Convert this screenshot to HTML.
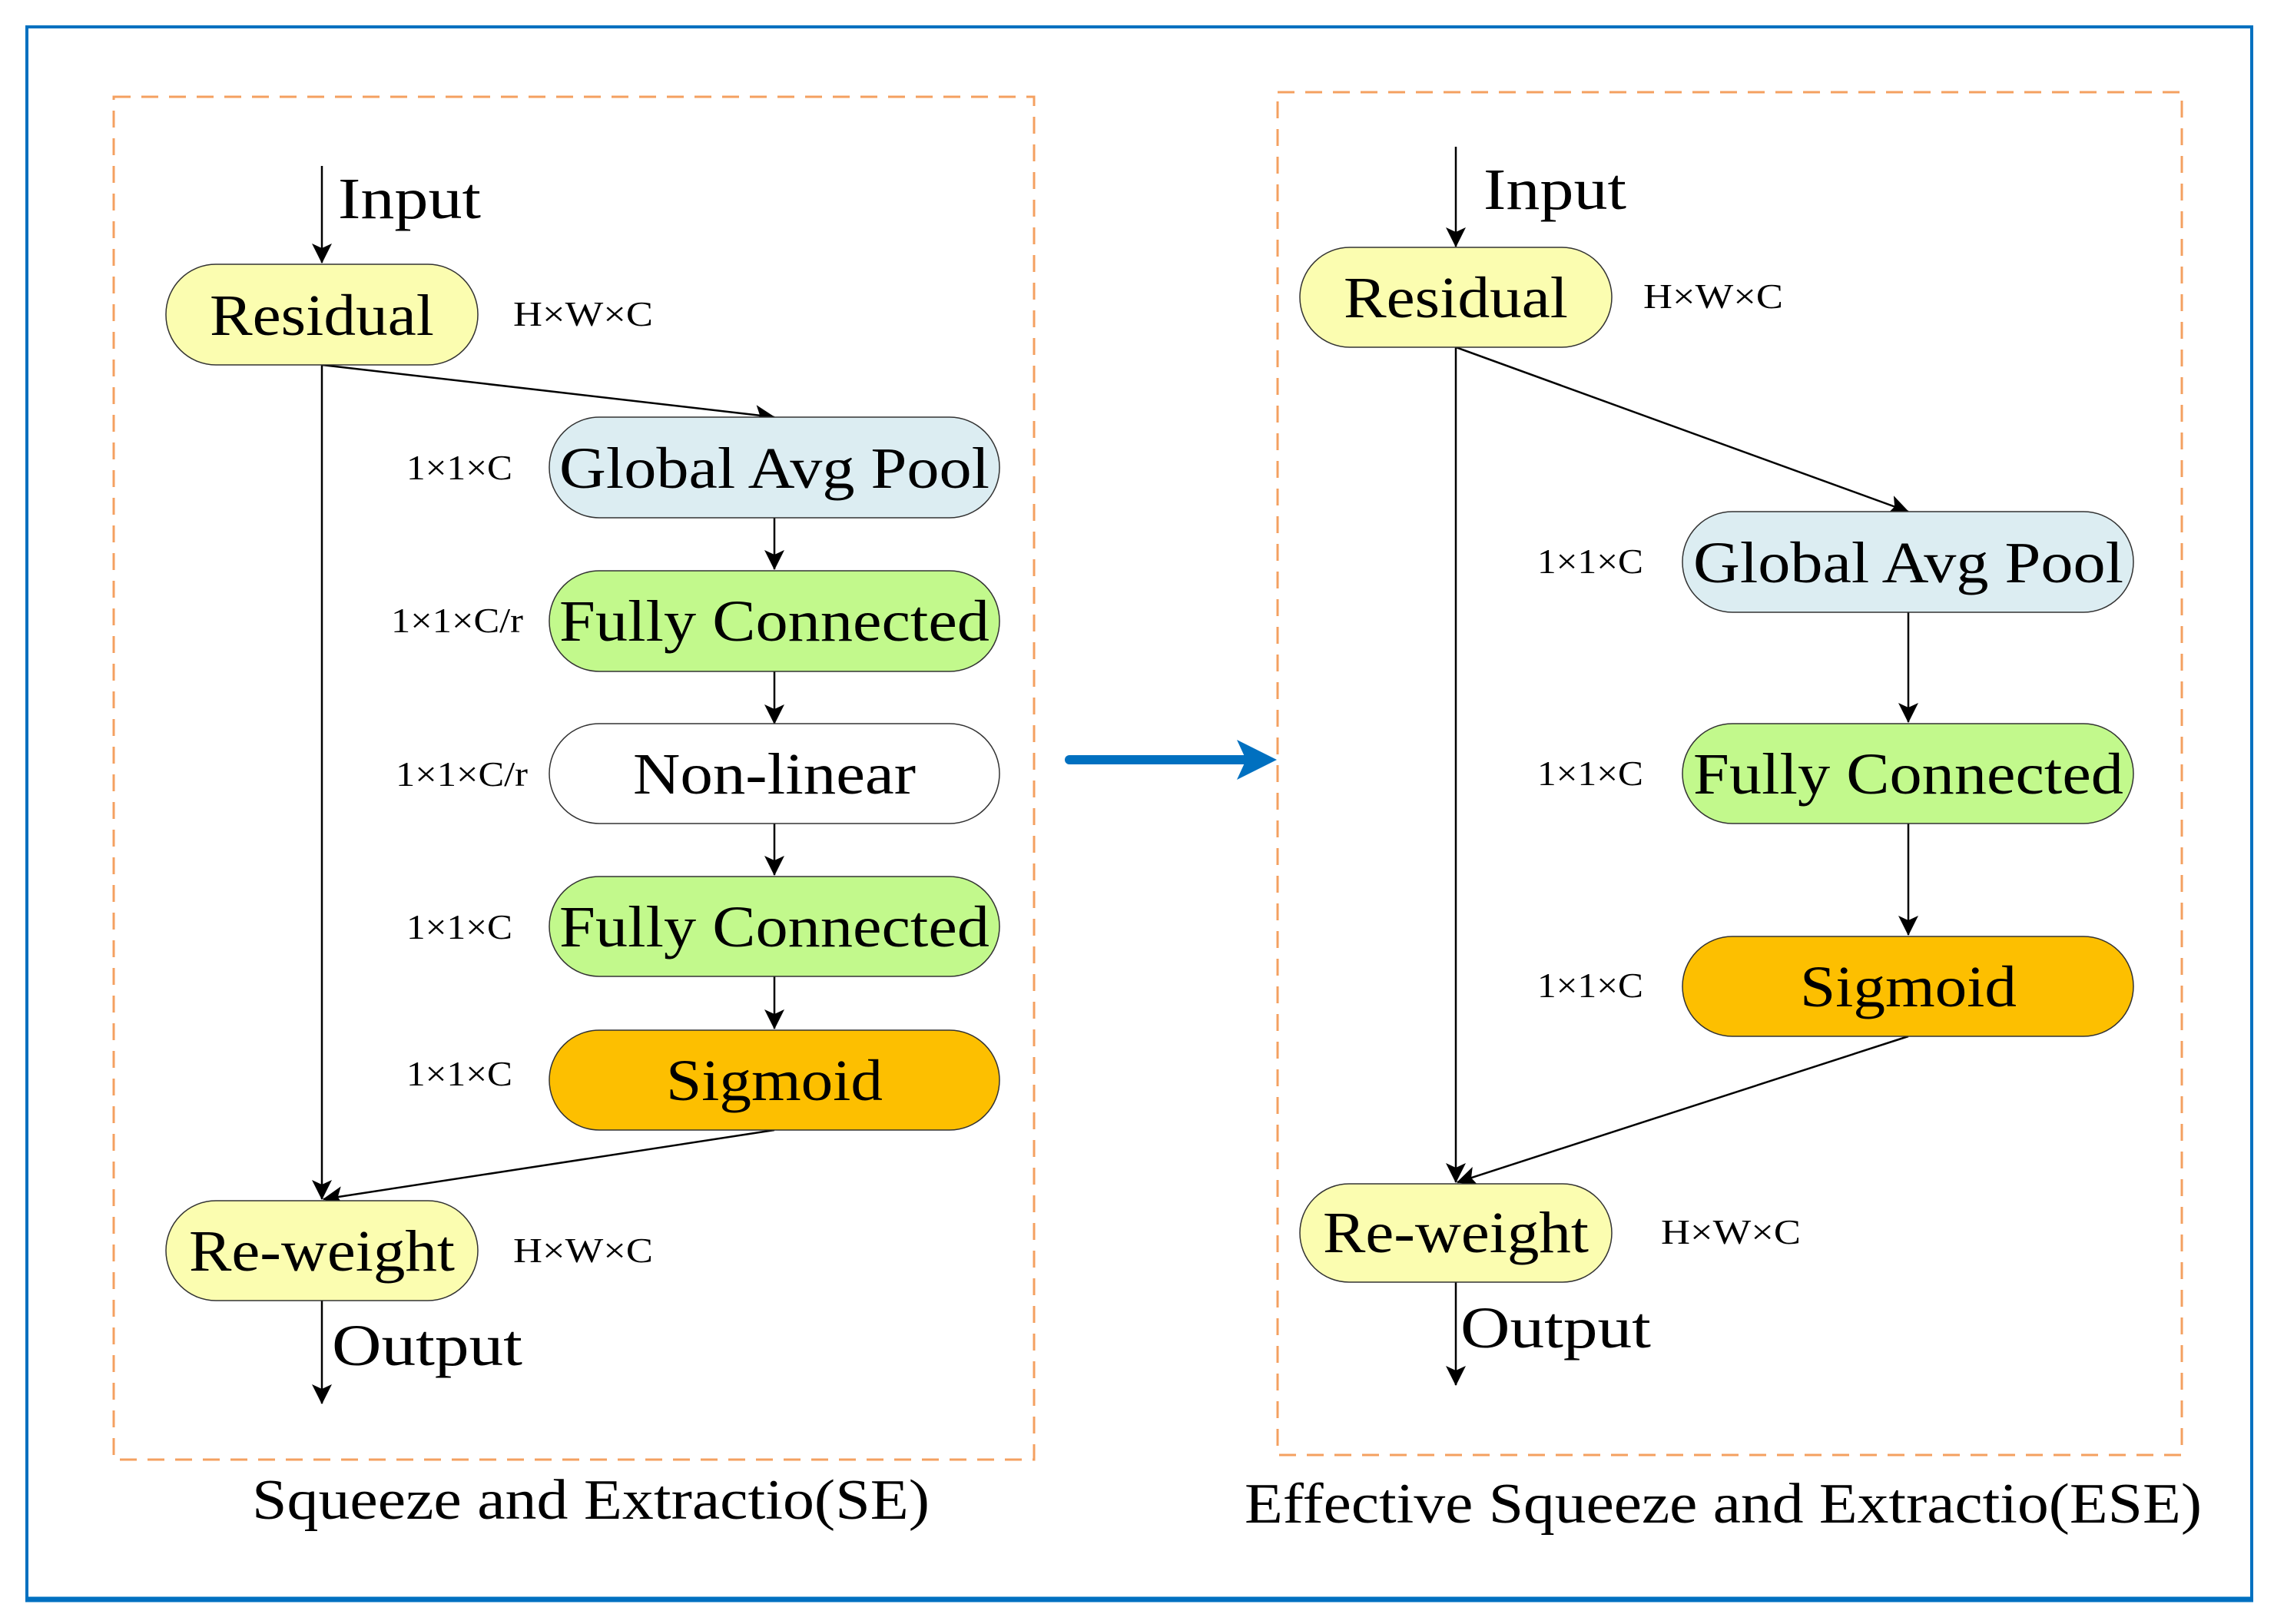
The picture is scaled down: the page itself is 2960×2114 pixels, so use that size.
<!DOCTYPE html>
<html><head><meta charset="utf-8"><style>html,body{margin:0;padding:0;background:#fff}svg{display:block}text{font-family:"Liberation Serif",serif;fill:#000}</style></head>
<body>
<svg width="2960" height="2114" viewBox="0 0 2960 2114" xmlns="http://www.w3.org/2000/svg">
<defs>
<marker id="a" markerWidth="10" markerHeight="10" refX="9" refY="5" orient="auto" markerUnits="userSpaceOnUse" viewBox="0 0 10 10"><path d="M0,0 L10,5 L0,10 L3,5 z" fill="#000"/></marker>
<marker id="b" markerWidth="26" markerHeight="26" refX="25" refY="13" orient="auto" markerUnits="userSpaceOnUse" viewBox="0 0 26 26"><path d="M0,0 L26,13 L0,26 L6,13 z" fill="#000"/></marker>
</defs>
<!-- outer border -->
<rect x="35" y="35" width="2896" height="2046" fill="none" stroke="#0070c0" stroke-width="4"/>
<line x1="33" y1="2082" x2="2933" y2="2082" stroke="#0070c0" stroke-width="7"/>
<!-- dashed boxes -->
<rect x="148" y="126" width="1198" height="1774" fill="none" stroke="#f4a060" stroke-width="3" stroke-dasharray="22,14"/>
<rect x="1663" y="120" width="1177" height="1774" fill="none" stroke="#f4a060" stroke-width="3" stroke-dasharray="22,14"/>
<!-- blue arrow -->
<line x1="1392" y1="989" x2="1620" y2="989" stroke="#0070c0" stroke-width="12" stroke-linecap="round"/>
<path d="M1610,963 L1662,989 L1610,1015 L1622,989 z" fill="#0070c0"/>

<!-- LEFT -->
<g stroke="#000" stroke-width="2.5" fill="none">
<line x1="419" y1="216" x2="419" y2="342" marker-end="url(#b)"/>
<line x1="419" y1="475" x2="1008" y2="543" marker-end="url(#b)"/>
<line x1="419" y1="475" x2="419" y2="1561" marker-end="url(#b)"/>
<line x1="1008" y1="674" x2="1008" y2="741" marker-end="url(#b)"/>
<line x1="1008" y1="874" x2="1008" y2="942" marker-end="url(#b)"/>
<line x1="1008" y1="1072" x2="1008" y2="1139" marker-end="url(#b)"/>
<line x1="1008" y1="1271" x2="1008" y2="1339" marker-end="url(#b)"/>
<line x1="1008" y1="1471" x2="421" y2="1561" marker-end="url(#b)"/>
<line x1="419" y1="1693" x2="419" y2="1827" marker-end="url(#b)"/>
</g>
<g stroke="#333" stroke-width="1.5">
<rect x="216" y="344" width="406" height="131" rx="65" fill="#fbfdb0"/>
<rect x="715" y="543" width="586" height="131" rx="65" fill="#dcedf2"/>
<rect x="715" y="743" width="586" height="131" rx="65" fill="#c2f98c"/>
<rect x="715" y="942" width="586" height="130" rx="65" fill="#fff"/>
<rect x="715" y="1141" width="586" height="130" rx="65" fill="#c2f98c"/>
<rect x="715" y="1341" width="586" height="130" rx="65" fill="#fdbf00"/>
<rect x="216" y="1563" width="406" height="130" rx="65" fill="#fbfdb0"/>
</g>
<g font-size="76">
<text x="440" y="284" textLength="186" lengthAdjust="spacingAndGlyphs">Input</text>
<text x="419" y="436" text-anchor="middle" textLength="292" lengthAdjust="spacingAndGlyphs">Residual</text>
<text x="1008" y="635" text-anchor="middle" textLength="560" lengthAdjust="spacingAndGlyphs">Global Avg Pool</text>
<text x="1008" y="834" text-anchor="middle" textLength="560" lengthAdjust="spacingAndGlyphs">Fully Connected</text>
<text x="1008" y="1033" text-anchor="middle" textLength="368" lengthAdjust="spacingAndGlyphs">Non-linear</text>
<text x="1008" y="1232" text-anchor="middle" textLength="560" lengthAdjust="spacingAndGlyphs">Fully Connected</text>
<text x="1008" y="1432" text-anchor="middle" textLength="282" lengthAdjust="spacingAndGlyphs">Sigmoid</text>
<text x="419" y="1654" text-anchor="middle" textLength="346" lengthAdjust="spacingAndGlyphs">Re-weight</text>
<text x="432" y="1777" textLength="248" lengthAdjust="spacingAndGlyphs">Output</text>
</g>
<g font-size="46">
<text x="668" y="424" textLength="182" lengthAdjust="spacingAndGlyphs">H×W×C</text>
<text x="667" y="624" text-anchor="end" textLength="138" lengthAdjust="spacingAndGlyphs">1×1×C</text>
<text x="681" y="823" text-anchor="end" textLength="172" lengthAdjust="spacingAndGlyphs">1×1×C/r</text>
<text x="687" y="1023" text-anchor="end" textLength="172" lengthAdjust="spacingAndGlyphs">1×1×C/r</text>
<text x="667" y="1222" text-anchor="end" textLength="138" lengthAdjust="spacingAndGlyphs">1×1×C</text>
<text x="667" y="1413" text-anchor="end" textLength="138" lengthAdjust="spacingAndGlyphs">1×1×C</text>
<text x="668" y="1643" textLength="182" lengthAdjust="spacingAndGlyphs">H×W×C</text>
</g>
<text x="328" y="1977" font-size="74" textLength="882" lengthAdjust="spacingAndGlyphs">Squeeze and Extractio(SE)</text>

<!-- RIGHT -->
<g stroke="#000" stroke-width="2.5" fill="none">
<line x1="1895" y1="191" x2="1895" y2="321" marker-end="url(#b)"/>
<line x1="1895" y1="452" x2="2484" y2="666" marker-end="url(#b)"/>
<line x1="1895" y1="452" x2="1895" y2="1539" marker-end="url(#b)"/>
<line x1="2484" y1="797" x2="2484" y2="940" marker-end="url(#b)"/>
<line x1="2484" y1="1072" x2="2484" y2="1217" marker-end="url(#b)"/>
<line x1="2484" y1="1349" x2="1897" y2="1539" marker-end="url(#b)"/>
<line x1="1895" y1="1669" x2="1895" y2="1803" marker-end="url(#b)"/>
</g>
<g stroke="#333" stroke-width="1.5">
<rect x="1692" y="322" width="406" height="130" rx="65" fill="#fbfdb0"/>
<rect x="2190" y="666" width="587" height="131" rx="65" fill="#dcedf2"/>
<rect x="2190" y="942" width="587" height="130" rx="65" fill="#c2f98c"/>
<rect x="2190" y="1219" width="587" height="130" rx="65" fill="#fdbf00"/>
<rect x="1692" y="1541" width="406" height="128" rx="64" fill="#fbfdb0"/>
</g>
<g font-size="76">
<text x="1931" y="272" textLength="186" lengthAdjust="spacingAndGlyphs">Input</text>
<text x="1895" y="413" text-anchor="middle" textLength="292" lengthAdjust="spacingAndGlyphs">Residual</text>
<text x="2484" y="758" text-anchor="middle" textLength="560" lengthAdjust="spacingAndGlyphs">Global Avg Pool</text>
<text x="2484" y="1033" text-anchor="middle" textLength="560" lengthAdjust="spacingAndGlyphs">Fully Connected</text>
<text x="2484" y="1310" text-anchor="middle" textLength="282" lengthAdjust="spacingAndGlyphs">Sigmoid</text>
<text x="1895" y="1630" text-anchor="middle" textLength="346" lengthAdjust="spacingAndGlyphs">Re-weight</text>
<text x="1901" y="1754" textLength="248" lengthAdjust="spacingAndGlyphs">Output</text>
</g>
<g font-size="46">
<text x="2139" y="401" textLength="182" lengthAdjust="spacingAndGlyphs">H×W×C</text>
<text x="2139" y="746" text-anchor="end" textLength="138" lengthAdjust="spacingAndGlyphs">1×1×C</text>
<text x="2139" y="1022" text-anchor="end" textLength="138" lengthAdjust="spacingAndGlyphs">1×1×C</text>
<text x="2139" y="1298" text-anchor="end" textLength="138" lengthAdjust="spacingAndGlyphs">1×1×C</text>
<text x="2162" y="1619" textLength="182" lengthAdjust="spacingAndGlyphs">H×W×C</text>
</g>
<text x="1620" y="1982" font-size="74" textLength="1246" lengthAdjust="spacingAndGlyphs">Effective Squeeze and Extractio(ESE)</text>
</svg>
</body></html>
